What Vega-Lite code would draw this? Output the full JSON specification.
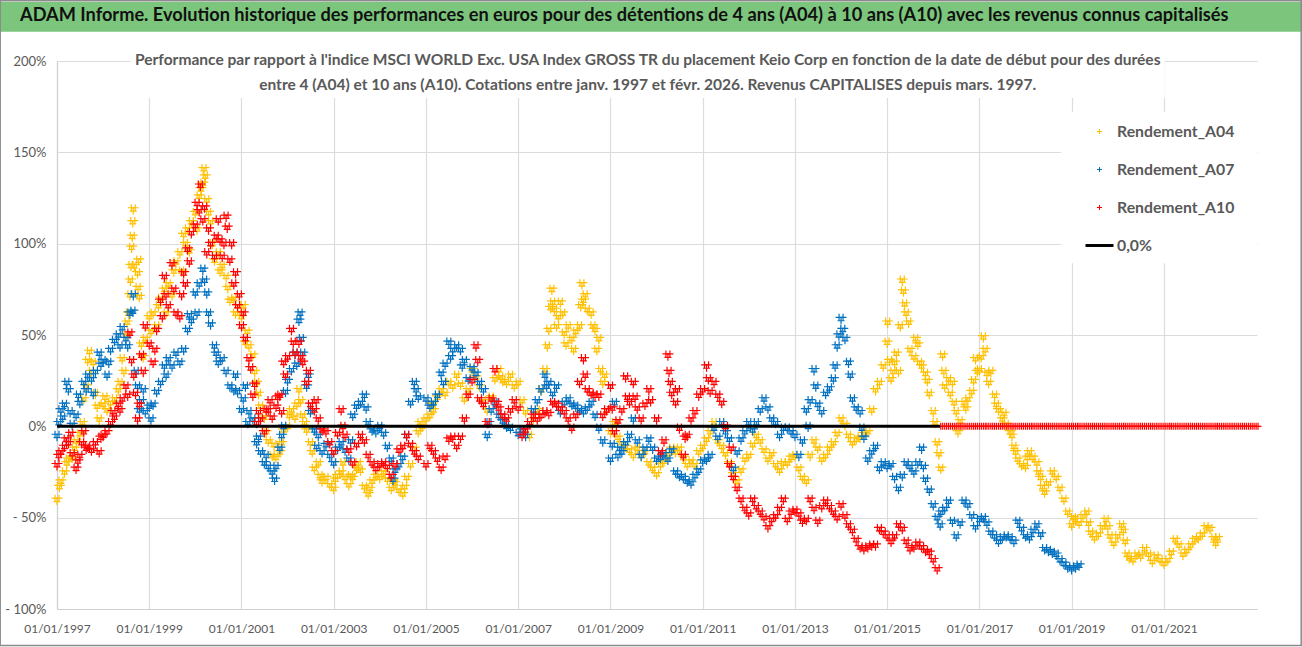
{"$schema":"https://vega.github.io/schema/vega-lite/v6.json","width":1200,"height":548,"autosize":"none","padding":{"left":57,"top":61,"right":45,"bottom":38},"background":"white",
"title":{"text":"ADAM Informe. Evolution historique des performances en euros pour des détentions de 4 ans (A04) à 10 ans (A10) avec les revenus connus capitalisés","anchor":"start","frame":"group","dx":-37,"offset":-25,"font":"Lato","fontSize":18.2,"fontWeight":"bold","color":"#111111"},
"config":{"view":{"stroke":null},"font":"Lato"},
"datasets":{
"a04":[{"d":"1997-01","v":-40},{"d":"1997-01-20","v":-33},{"d":"1997-02","v":-30},{"d":"1997-03","v":-25},{"d":"1997-03-20","v":-20},{"d":"1997-04","v":-18},{"d":"1997-05","v":-17},{"d":"1997-05-20","v":-12},{"d":"1997-06","v":-8},{"d":"1997-07","v":-4},{"d":"1997-07-20","v":2},{"d":"1997-08","v":15},{"d":"1997-08-20","v":22},{"d":"1997-09","v":36},{"d":"1997-09-15","v":41},{"d":"1997-10","v":30},{"d":"1997-10-15","v":35},{"d":"1997-11","v":18},{"d":"1997-11-15","v":11},{"d":"1997-12","v":4},{"d":"1998-01","v":12},{"d":"1998-01-15","v":16},{"d":"1998-02","v":9},{"d":"1998-03","v":13},{"d":"1998-04","v":15},{"d":"1998-05","v":20},{"d":"1998-05-15","v":24},{"d":"1998-06","v":37},{"d":"1998-06-15","v":30},{"d":"1998-07","v":50},{"d":"1998-07-10","v":57},{"d":"1998-07-20","v":62},{"d":"1998-08","v":72},{"d":"1998-08-05","v":80},{"d":"1998-08-10","v":88},{"d":"1998-08-15","v":98},{"d":"1998-08-20","v":104},{"d":"1998-08-24","v":112},{"d":"1998-08-28","v":119},{"d":"1998-09-05","v":88},{"d":"1998-10-01","v":84},{"d":"1998-10-05","v":76},{"d":"1998-10-10","v":91},{"d":"1998-10-15","v":71},{"d":"1998-11","v":45},{"d":"1998-11-15","v":38},{"d":"1998-12","v":48},{"d":"1999-01","v":60},{"d":"1999-01-15","v":52},{"d":"1999-02","v":62},{"d":"1999-03","v":55},{"d":"1999-03-15","v":66},{"d":"1999-04","v":70},{"d":"1999-05","v":75},{"d":"1999-05-15","v":62},{"d":"1999-06","v":78},{"d":"1999-07","v":72},{"d":"1999-07-15","v":85},{"d":"1999-08","v":90},{"d":"1999-09","v":95},{"d":"1999-09-15","v":85},{"d":"1999-10","v":105},{"d":"1999-10-15","v":100},{"d":"1999-11","v":108},{"d":"1999-11-15","v":96},{"d":"1999-12","v":112},{"d":"2000-01","v":117},{"d":"2000-01-15","v":108},{"d":"2000-02","v":126},{"d":"2000-02-15","v":130},{"d":"2000-03","v":133},{"d":"2000-03-10","v":141},{"d":"2000-03-20","v":137},{"d":"2000-04","v":124},{"d":"2000-04-15","v":117},{"d":"2000-05","v":112},{"d":"2000-05-15","v":100},{"d":"2000-06","v":91},{"d":"2000-07","v":95},{"d":"2000-07-15","v":85},{"d":"2000-08","v":88},{"d":"2000-09","v":82},{"d":"2000-09-15","v":76},{"d":"2000-10","v":69},{"d":"2000-11","v":70},{"d":"2000-11-15","v":62},{"d":"2000-12","v":66},{"d":"2001-01","v":60},{"d":"2001-01-15","v":66},{"d":"2001-02","v":46},{"d":"2001-02-15","v":52},{"d":"2001-03","v":44},{"d":"2001-04","v":39},{"d":"2001-04-15","v":30},{"d":"2001-05","v":24},{"d":"2001-05-15","v":18},{"d":"2001-06","v":11},{"d":"2001-07","v":5},{"d":"2001-07-15","v":-3},{"d":"2001-08","v":-8},{"d":"2001-09","v":-16},{"d":"2001-09-15","v":-10},{"d":"2001-10","v":-17},{"d":"2001-11","v":-14},{"d":"2001-11-15","v":-9},{"d":"2001-12","v":-2},{"d":"2002-01","v":0},{"d":"2002-01-15","v":6},{"d":"2002-02","v":9},{"d":"2002-03","v":5},{"d":"2002-03-15","v":12},{"d":"2002-04","v":20},{"d":"2002-04-15","v":14},{"d":"2002-05","v":6},{"d":"2002-05-15","v":2},{"d":"2002-06","v":-2},{"d":"2002-07","v":-9},{"d":"2002-07-15","v":-14},{"d":"2002-08","v":-23},{"d":"2002-09","v":-20},{"d":"2002-09-15","v":-27},{"d":"2002-10","v":-30},{"d":"2002-11","v":-28},{"d":"2002-12","v":-32},{"d":"2003-01","v":-34},{"d":"2003-01-15","v":-29},{"d":"2003-02","v":-27},{"d":"2003-03","v":-25},{"d":"2003-03-15","v":-20},{"d":"2003-04","v":-28},{"d":"2003-05","v":-32},{"d":"2003-05-15","v":-27},{"d":"2003-06","v":-28},{"d":"2003-07","v":-23},{"d":"2003-07-15","v":-20},{"d":"2003-08","v":-24},{"d":"2003-09","v":-33},{"d":"2003-10","v":-37},{"d":"2003-10-15","v":-34},{"d":"2003-11","v":-30},{"d":"2003-12","v":-27},{"d":"2004-01","v":-28},{"d":"2004-02","v":-25},{"d":"2004-03","v":-29},{"d":"2004-04","v":-34},{"d":"2004-04-15","v":-30},{"d":"2004-05","v":-31},{"d":"2004-06","v":-35},{"d":"2004-07","v":-37},{"d":"2004-07-15","v":-33},{"d":"2004-08","v":-28},{"d":"2004-09","v":-21},{"d":"2004-10","v":-12},{"d":"2004-11","v":-3},{"d":"2004-11-15","v":2},{"d":"2004-12","v":0},{"d":"2005-01","v":4},{"d":"2005-02","v":6},{"d":"2005-02-15","v":12},{"d":"2005-03","v":9},{"d":"2005-04","v":16},{"d":"2005-05","v":20},{"d":"2005-06","v":18},{"d":"2005-07","v":24},{"d":"2005-08","v":22},{"d":"2005-09","v":28},{"d":"2005-10","v":23},{"d":"2005-11","v":15},{"d":"2005-12","v":20},{"d":"2006-01","v":31},{"d":"2006-02","v":27},{"d":"2006-03","v":22},{"d":"2006-04","v":14},{"d":"2006-05","v":9},{"d":"2006-06","v":16},{"d":"2006-07","v":26},{"d":"2006-08","v":31},{"d":"2006-08-15","v":27},{"d":"2006-09","v":25},{"d":"2006-10","v":24},{"d":"2006-11","v":28},{"d":"2006-12","v":22},{"d":"2007-01","v":24},{"d":"2007-02","v":14},{"d":"2007-03","v":8},{"d":"2007-04","v":-5},{"d":"2007-05","v":4},{"d":"2007-06","v":9},{"d":"2007-07","v":20},{"d":"2007-08","v":31},{"d":"2007-08-20","v":44},{"d":"2007-09","v":53},{"d":"2007-09-15","v":65},{"d":"2007-09-25","v":75},{"d":"2007-10","v":68},{"d":"2007-10-15","v":64},{"d":"2007-11","v":55},{"d":"2007-11-15","v":60},{"d":"2007-12","v":68},{"d":"2007-12-20","v":62},{"d":"2008-01","v":51},{"d":"2008-01-15","v":45},{"d":"2008-02","v":55},{"d":"2008-03","v":48},{"d":"2008-03-15","v":42},{"d":"2008-04","v":52},{"d":"2008-05","v":55},{"d":"2008-05-10","v":66},{"d":"2008-05-20","v":78},{"d":"2008-06","v":69},{"d":"2008-06-15","v":72},{"d":"2008-07","v":64},{"d":"2008-08","v":62},{"d":"2008-08-15","v":55},{"d":"2008-09","v":53},{"d":"2008-09-15","v":42},{"d":"2008-10","v":48},{"d":"2008-10-15","v":31},{"d":"2008-11","v":24},{"d":"2008-11-15","v":28},{"d":"2008-12","v":9},{"d":"2009-01","v":-3},{"d":"2009-02","v":2},{"d":"2009-03","v":-6},{"d":"2009-04","v":-9},{"d":"2009-05","v":-11},{"d":"2009-06","v":-13},{"d":"2009-07","v":-16},{"d":"2009-08","v":-12},{"d":"2009-09","v":-16},{"d":"2009-10","v":-14},{"d":"2009-11","v":-20},{"d":"2009-12","v":-23},{"d":"2010-01","v":-26},{"d":"2010-02","v":-21},{"d":"2010-03","v":-19},{"d":"2010-04","v":-15},{"d":"2010-05","v":-12},{"d":"2010-06","v":-14},{"d":"2010-07","v":-12},{"d":"2010-08","v":-17},{"d":"2010-09","v":-21},{"d":"2010-10","v":-19},{"d":"2010-11","v":-21},{"d":"2010-12","v":-14},{"d":"2011-01","v":-11},{"d":"2011-02","v":-7},{"d":"2011-03","v":-3},{"d":"2011-04","v":2},{"d":"2011-05","v":-8},{"d":"2011-06","v":-11},{"d":"2011-07","v":-15},{"d":"2011-08","v":-20},{"d":"2011-09","v":-26},{"d":"2011-10","v":-30},{"d":"2011-11","v":-24},{"d":"2011-12","v":-18},{"d":"2012-01","v":-16},{"d":"2012-02","v":-10},{"d":"2012-03","v":-5},{"d":"2012-04","v":-8},{"d":"2012-05","v":-13},{"d":"2012-06","v":-18},{"d":"2012-07","v":-15},{"d":"2012-08","v":-21},{"d":"2012-09","v":-24},{"d":"2012-10","v":-20},{"d":"2012-11","v":-20},{"d":"2012-12","v":-17},{"d":"2013-01","v":-16},{"d":"2013-02","v":-23},{"d":"2013-03","v":-28},{"d":"2013-04","v":-30},{"d":"2013-05","v":-16},{"d":"2013-06","v":-8},{"d":"2013-07","v":-12},{"d":"2013-08","v":-18},{"d":"2013-09","v":-16},{"d":"2013-10","v":-12},{"d":"2013-11","v":-9},{"d":"2013-12","v":-4},{"d":"2014-01","v":4},{"d":"2014-02","v":1},{"d":"2014-03","v":-5},{"d":"2014-04","v":-9},{"d":"2014-05","v":-7},{"d":"2014-06","v":-6},{"d":"2014-07","v":-4},{"d":"2014-08","v":-3},{"d":"2014-09","v":9},{"d":"2014-10","v":20},{"d":"2014-11","v":24},{"d":"2014-12","v":33},{"d":"2015-01","v":46},{"d":"2015-01-05","v":57},{"d":"2015-01-20","v":36},{"d":"2015-02","v":26},{"d":"2015-02-15","v":30},{"d":"2015-03","v":35},{"d":"2015-03-15","v":40},{"d":"2015-04","v":30},{"d":"2015-04-15","v":55},{"d":"2015-05","v":80},{"d":"2015-05-10","v":74},{"d":"2015-05-20","v":67},{"d":"2015-06","v":62},{"d":"2015-06-20","v":57},{"d":"2015-07","v":42},{"d":"2015-08","v":38},{"d":"2015-08-15","v":48},{"d":"2015-09","v":45},{"d":"2015-09-15","v":35},{"d":"2015-10","v":33},{"d":"2015-11","v":29},{"d":"2015-11-15","v":25},{"d":"2015-12","v":18},{"d":"2016-01","v":8},{"d":"2016-01-15","v":2},{"d":"2016-02","v":-9},{"d":"2016-02-15","v":-15},{"d":"2016-03","v":-23},{"d":"2016-03-15","v":39},{"d":"2016-03-25","v":30},{"d":"2016-04","v":22},{"d":"2016-05","v":26},{"d":"2016-05-15","v":18},{"d":"2016-06","v":24},{"d":"2016-06-15","v":13},{"d":"2016-07","v":8},{"d":"2016-07-15","v":-3},{"d":"2016-08","v":3},{"d":"2016-09","v":13},{"d":"2016-09-15","v":10},{"d":"2016-10","v":15},{"d":"2016-11","v":19},{"d":"2016-11-15","v":25},{"d":"2016-12","v":37},{"d":"2016-12-15","v":30},{"d":"2017-01","v":31},{"d":"2017-01-15","v":38},{"d":"2017-02","v":49},{"d":"2017-02-15","v":42},{"d":"2017-03","v":29},{"d":"2017-03-15","v":24},{"d":"2017-04","v":30},{"d":"2017-05","v":17},{"d":"2017-05-15","v":12},{"d":"2017-06","v":9},{"d":"2017-07","v":4},{"d":"2017-07-15","v":7},{"d":"2017-08","v":1},{"d":"2017-09","v":-3},{"d":"2017-09-15","v":-5},{"d":"2017-10","v":-11},{"d":"2017-10-15","v":-14},{"d":"2017-11","v":-18},{"d":"2017-12","v":-21},{"d":"2018-01","v":-22},{"d":"2018-01-15","v":-17},{"d":"2018-02","v":-14},{"d":"2018-03","v":-17},{"d":"2018-04","v":-20},{"d":"2018-04-15","v":-25},{"d":"2018-05","v":-28},{"d":"2018-05-15","v":-33},{"d":"2018-06","v":-36},{"d":"2018-07","v":-31},{"d":"2018-08","v":-25},{"d":"2018-09","v":-28},{"d":"2018-10","v":-34},{"d":"2018-11","v":-40},{"d":"2018-12","v":-47},{"d":"2019-01","v":-54},{"d":"2019-01-15","v":-50},{"d":"2019-02","v":-51},{"d":"2019-03","v":-53},{"d":"2019-04","v":-49},{"d":"2019-05","v":-47},{"d":"2019-05-15","v":-53},{"d":"2019-06","v":-58},{"d":"2019-07","v":-61},{"d":"2019-08","v":-59},{"d":"2019-09","v":-55},{"d":"2019-10","v":-51},{"d":"2019-10-15","v":-55},{"d":"2019-11","v":-60},{"d":"2019-12","v":-64},{"d":"2020-01","v":-60},{"d":"2020-02","v":-54},{"d":"2020-02-15","v":-57},{"d":"2020-03","v":-63},{"d":"2020-03-15","v":-70},{"d":"2020-04","v":-72},{"d":"2020-05","v":-73},{"d":"2020-06","v":-70},{"d":"2020-07","v":-71},{"d":"2020-08","v":-67},{"d":"2020-09","v":-70},{"d":"2020-10","v":-74},{"d":"2020-11","v":-71},{"d":"2020-12","v":-73},{"d":"2021-01","v":-75},{"d":"2021-02","v":-73},{"d":"2021-03","v":-69},{"d":"2021-04","v":-62},{"d":"2021-05","v":-65},{"d":"2021-06","v":-70},{"d":"2021-07","v":-68},{"d":"2021-08","v":-65},{"d":"2021-09","v":-62},{"d":"2021-10","v":-61},{"d":"2021-11","v":-59},{"d":"2021-12","v":-55},{"d":"2022-01","v":-56},{"d":"2022-02","v":-61},{"d":"2022-02-15","v":-64},{"d":"2022-03","v":-61}],
"a07":[{"d":"1997-01","v":-5},{"d":"1997-01-15","v":2},{"d":"1997-02","v":9},{"d":"1997-02-15","v":5},{"d":"1997-03","v":12},{"d":"1997-03-20","v":24},{"d":"1997-04","v":20},{"d":"1997-04-15","v":8},{"d":"1997-05","v":1},{"d":"1997-06","v":6},{"d":"1997-06-20","v":17},{"d":"1997-07","v":13},{"d":"1997-08","v":24},{"d":"1997-08-20","v":20},{"d":"1997-09","v":28},{"d":"1997-10","v":26},{"d":"1997-10-15","v":18},{"d":"1997-11","v":30},{"d":"1997-12","v":40},{"d":"1997-12-15","v":34},{"d":"1998-01","v":36},{"d":"1998-02","v":28},{"d":"1998-02-15","v":35},{"d":"1998-03","v":42},{"d":"1998-04","v":47},{"d":"1998-05","v":50},{"d":"1998-05-15","v":44},{"d":"1998-06","v":54},{"d":"1998-07","v":48},{"d":"1998-07-15","v":44},{"d":"1998-08","v":62},{"d":"1998-08-25","v":63},{"d":"1998-08-28","v":72},{"d":"1998-09-20","v":30},{"d":"1998-10","v":22},{"d":"1998-10-15","v":9},{"d":"1998-11","v":14},{"d":"1998-11-15","v":20},{"d":"1998-12","v":8},{"d":"1999-01","v":11},{"d":"1999-01-15","v":4},{"d":"1999-02","v":12},{"d":"1999-03","v":19},{"d":"1999-04","v":24},{"d":"1999-05","v":33},{"d":"1999-05-15","v":28},{"d":"1999-06","v":37},{"d":"1999-07","v":33},{"d":"1999-08","v":40},{"d":"1999-09","v":35},{"d":"1999-10","v":42},{"d":"1999-11","v":53},{"d":"1999-11-15","v":61},{"d":"1999-12","v":58},{"d":"2000-01","v":73},{"d":"2000-01-15","v":62},{"d":"2000-02","v":78},{"d":"2000-03","v":86},{"d":"2000-03-15","v":80},{"d":"2000-04","v":73},{"d":"2000-04-15","v":62},{"d":"2000-05","v":56},{"d":"2000-06","v":44},{"d":"2000-06-15","v":40},{"d":"2000-07","v":35},{"d":"2000-08","v":37},{"d":"2000-09","v":30},{"d":"2000-10","v":22},{"d":"2000-11","v":20},{"d":"2000-11-15","v":28},{"d":"2000-12","v":19},{"d":"2001-01","v":9},{"d":"2001-01-15","v":15},{"d":"2001-02","v":22},{"d":"2001-02-20","v":2},{"d":"2001-03","v":8},{"d":"2001-04","v":4},{"d":"2001-05","v":-9},{"d":"2001-05-15","v":-6},{"d":"2001-06","v":-14},{"d":"2001-07","v":-20},{"d":"2001-07-15","v":-16},{"d":"2001-08","v":-22},{"d":"2001-09","v":-25},{"d":"2001-09-20","v":-29},{"d":"2001-10","v":-22},{"d":"2001-11","v":-12},{"d":"2001-11-15","v":-5},{"d":"2001-12","v":0},{"d":"2001-12-15","v":19},{"d":"2002-01","v":25},{"d":"2002-02","v":31},{"d":"2002-03","v":40},{"d":"2002-03-15","v":34},{"d":"2002-04","v":58},{"d":"2002-04-10","v":62},{"d":"2002-04-20","v":48},{"d":"2002-05","v":40},{"d":"2002-06","v":22},{"d":"2002-06-15","v":28},{"d":"2002-07","v":8},{"d":"2002-08","v":-2},{"d":"2002-08-20","v":-11},{"d":"2002-09","v":-5},{"d":"2002-10","v":-14},{"d":"2002-11","v":-10},{"d":"2002-12","v":-16},{"d":"2003-01","v":-20},{"d":"2003-02","v":-12},{"d":"2003-03","v":-9},{"d":"2003-04","v":-13},{"d":"2003-05","v":-18},{"d":"2003-05-15","v":-8},{"d":"2003-06","v":6},{"d":"2003-07","v":11},{"d":"2003-08","v":13},{"d":"2003-09","v":17},{"d":"2003-09-15","v":10},{"d":"2003-10","v":2},{"d":"2003-11","v":-2},{"d":"2003-12","v":-3},{"d":"2004-01","v":0},{"d":"2004-02","v":-4},{"d":"2004-03","v":-11},{"d":"2004-04","v":-18},{"d":"2004-04-15","v":-29},{"d":"2004-05","v":-24},{"d":"2004-06","v":-21},{"d":"2004-07","v":-17},{"d":"2004-08","v":-5},{"d":"2004-09","v":13},{"d":"2004-10","v":24},{"d":"2004-10-15","v":20},{"d":"2004-11","v":16},{"d":"2005-01","v":15},{"d":"2005-02","v":11},{"d":"2005-03","v":13},{"d":"2005-04","v":17},{"d":"2005-05","v":29},{"d":"2005-05-20","v":24},{"d":"2005-06","v":34},{"d":"2005-07","v":46},{"d":"2005-07-15","v":38},{"d":"2005-08","v":42},{"d":"2005-09","v":44},{"d":"2005-10","v":42},{"d":"2005-10-15","v":33},{"d":"2005-11","v":36},{"d":"2005-12","v":26},{"d":"2006-01","v":32},{"d":"2006-02","v":29},{"d":"2006-03","v":24},{"d":"2006-04","v":20},{"d":"2006-05","v":-5},{"d":"2006-05-15","v":2},{"d":"2006-06","v":9},{"d":"2006-07","v":13},{"d":"2006-08","v":6},{"d":"2006-09","v":3},{"d":"2006-10","v":0},{"d":"2006-11","v":-1},{"d":"2007-01","v":-4},{"d":"2007-02","v":-2},{"d":"2007-03","v":-5},{"d":"2007-04","v":2},{"d":"2007-05","v":9},{"d":"2007-06","v":14},{"d":"2007-07","v":20},{"d":"2007-08","v":28},{"d":"2007-08-15","v":22},{"d":"2007-09","v":24},{"d":"2007-10","v":18},{"d":"2007-11","v":22},{"d":"2007-12","v":8},{"d":"2008-01","v":13},{"d":"2008-02","v":15},{"d":"2008-03","v":12},{"d":"2008-04","v":11},{"d":"2008-05","v":9},{"d":"2008-06","v":8},{"d":"2008-07","v":10},{"d":"2008-08","v":13},{"d":"2008-09","v":6},{"d":"2008-10","v":-1},{"d":"2008-11","v":-8},{"d":"2009-01","v":-18},{"d":"2009-01-15","v":-10},{"d":"2009-02","v":13},{"d":"2009-03","v":-16},{"d":"2009-03-15","v":-12},{"d":"2009-04","v":-14},{"d":"2009-05","v":-9},{"d":"2009-06","v":-5},{"d":"2009-07","v":4},{"d":"2009-08","v":-8},{"d":"2009-09","v":-16},{"d":"2009-10","v":-12},{"d":"2009-11","v":-7},{"d":"2009-12","v":-12},{"d":"2010-01","v":-18},{"d":"2010-02","v":-17},{"d":"2010-03","v":-15},{"d":"2010-04","v":-18},{"d":"2010-05","v":-13},{"d":"2010-06","v":-25},{"d":"2010-07","v":-27},{"d":"2010-08","v":-28},{"d":"2010-09","v":-30},{"d":"2010-10","v":-31},{"d":"2010-11","v":-27},{"d":"2010-12","v":-24},{"d":"2011-01","v":-19},{"d":"2011-02","v":-18},{"d":"2011-03","v":-16},{"d":"2011-04","v":-1},{"d":"2011-05","v":-6},{"d":"2011-06","v":2},{"d":"2011-07","v":-3},{"d":"2011-08","v":-7},{"d":"2011-09","v":-23},{"d":"2011-10","v":-14},{"d":"2011-11","v":-7},{"d":"2011-12","v":-3},{"d":"2012-01","v":2},{"d":"2012-02","v":-2},{"d":"2012-03","v":2},{"d":"2012-04","v":9},{"d":"2012-05","v":15},{"d":"2012-06","v":10},{"d":"2012-07","v":4},{"d":"2012-08","v":2},{"d":"2012-09","v":-5},{"d":"2012-10","v":-1},{"d":"2012-11","v":-1},{"d":"2012-12","v":-3},{"d":"2013-01","v":-5},{"d":"2013-02","v":-16},{"d":"2013-03","v":-8},{"d":"2013-04","v":9},{"d":"2013-04-15","v":0},{"d":"2013-05","v":14},{"d":"2013-06","v":31},{"d":"2013-06-15","v":22},{"d":"2013-07","v":12},{"d":"2013-08","v":8},{"d":"2013-09","v":18},{"d":"2013-10","v":21},{"d":"2013-11","v":26},{"d":"2013-11-15","v":33},{"d":"2013-12","v":44},{"d":"2013-12-15","v":50},{"d":"2014-01","v":59},{"d":"2014-01-15","v":53},{"d":"2014-02","v":48},{"d":"2014-03","v":35},{"d":"2014-03-15","v":28},{"d":"2014-04","v":15},{"d":"2014-05","v":10},{"d":"2014-06","v":8},{"d":"2014-06-15","v":-1},{"d":"2014-07","v":-6},{"d":"2014-08","v":-18},{"d":"2014-09","v":-14},{"d":"2014-10","v":-11},{"d":"2014-11","v":-23},{"d":"2014-12","v":-20},{"d":"2015-01","v":-22},{"d":"2015-02","v":-21},{"d":"2015-03","v":-28},{"d":"2015-04","v":-34},{"d":"2015-05","v":-27},{"d":"2015-06","v":-20},{"d":"2015-07","v":-22},{"d":"2015-08","v":-25},{"d":"2015-09","v":-20},{"d":"2015-10","v":-12},{"d":"2015-10-15","v":-22},{"d":"2015-11","v":-29},{"d":"2015-12","v":-35},{"d":"2016-01","v":-43},{"d":"2016-02","v":-50},{"d":"2016-02-25","v":-54},{"d":"2016-03","v":-47},{"d":"2016-04","v":-45},{"d":"2016-05","v":-41},{"d":"2016-06","v":-52},{"d":"2016-07","v":-60},{"d":"2016-08","v":-53},{"d":"2016-09","v":-41},{"d":"2016-10","v":-43},{"d":"2016-11","v":-49},{"d":"2016-12","v":-55},{"d":"2017-01","v":-51},{"d":"2017-02","v":-50},{"d":"2017-03","v":-53},{"d":"2017-04","v":-58},{"d":"2017-05","v":-60},{"d":"2017-06","v":-63},{"d":"2017-07","v":-61},{"d":"2017-08","v":-60},{"d":"2017-09","v":-61},{"d":"2017-10","v":-63},{"d":"2017-11","v":-52},{"d":"2017-12","v":-56},{"d":"2018-01","v":-60},{"d":"2018-02","v":-61},{"d":"2018-03","v":-57},{"d":"2018-04","v":-54},{"d":"2018-05","v":-59},{"d":"2018-06","v":-67},{"d":"2018-07","v":-68},{"d":"2018-08","v":-69},{"d":"2018-09","v":-70},{"d":"2018-10","v":-73},{"d":"2018-11","v":-75},{"d":"2018-12","v":-77},{"d":"2019-01","v":-78},{"d":"2019-02","v":-77},{"d":"2019-03","v":-76}],
"a10":[{"d":"1997-01","v":-21},{"d":"1997-01-15","v":-16},{"d":"1997-02","v":-14},{"d":"1997-03","v":-11},{"d":"1997-03-15","v":-7},{"d":"1997-04","v":-9},{"d":"1997-04-20","v":-4},{"d":"1997-05","v":-15},{"d":"1997-06","v":-23},{"d":"1997-06-15","v":-19},{"d":"1997-07","v":-16},{"d":"1997-07-15","v":-9},{"d":"1997-08","v":-3},{"d":"1997-08-20","v":-12},{"d":"1997-09","v":-11},{"d":"1997-10","v":-13},{"d":"1997-11","v":-9},{"d":"1997-12","v":-14},{"d":"1997-12-15","v":-6},{"d":"1998-01","v":-5},{"d":"1998-02","v":-3},{"d":"1998-03","v":2},{"d":"1998-03-20","v":8},{"d":"1998-04","v":5},{"d":"1998-05","v":12},{"d":"1998-05-15","v":9},{"d":"1998-06","v":15},{"d":"1998-07","v":22},{"d":"1998-07-15","v":17},{"d":"1998-08","v":51},{"d":"1998-08-15","v":36},{"d":"1998-09","v":28},{"d":"1998-09-15","v":18},{"d":"1998-10","v":4},{"d":"1998-10-15","v":12},{"d":"1998-11","v":39},{"d":"1998-11-15","v":30},{"d":"1998-12","v":55},{"d":"1999-01","v":45},{"d":"1999-02","v":35},{"d":"1999-02-15","v":42},{"d":"1999-03","v":53},{"d":"1999-04","v":69},{"d":"1999-04-15","v":60},{"d":"1999-05","v":82},{"d":"1999-05-15","v":72},{"d":"1999-06","v":66},{"d":"1999-07","v":89},{"d":"1999-07-15","v":75},{"d":"1999-08","v":62},{"d":"1999-09","v":60},{"d":"1999-09-15","v":72},{"d":"1999-10","v":84},{"d":"1999-10-15","v":78},{"d":"1999-11","v":97},{"d":"1999-11-15","v":90},{"d":"1999-12","v":106},{"d":"2000-01","v":110},{"d":"2000-01-15","v":122},{"d":"2000-02","v":118},{"d":"2000-02-10","v":132},{"d":"2000-03","v":113},{"d":"2000-03-15","v":120},{"d":"2000-04","v":95},{"d":"2000-04-15","v":108},{"d":"2000-05","v":100},{"d":"2000-06","v":93},{"d":"2000-06-15","v":104},{"d":"2000-07","v":113},{"d":"2000-07-15","v":102},{"d":"2000-08","v":93},{"d":"2000-08-15","v":100},{"d":"2000-09","v":115},{"d":"2000-09-10","v":109},{"d":"2000-10","v":91},{"d":"2000-10-15","v":100},{"d":"2000-11","v":78},{"d":"2000-11-15","v":84},{"d":"2000-12","v":66},{"d":"2000-12-15","v":72},{"d":"2001-01","v":55},{"d":"2001-01-15","v":62},{"d":"2001-02","v":48},{"d":"2001-03","v":37},{"d":"2001-03-15","v":32},{"d":"2001-04","v":17},{"d":"2001-04-15","v":23},{"d":"2001-05","v":2},{"d":"2001-05-15","v":8},{"d":"2001-06","v":4},{"d":"2001-07","v":-3},{"d":"2001-07-15","v":9},{"d":"2001-08","v":9},{"d":"2001-08-15","v":14},{"d":"2001-09","v":5},{"d":"2001-10","v":11},{"d":"2001-10-15","v":16},{"d":"2001-11","v":17},{"d":"2001-11-15","v":8},{"d":"2001-12","v":35},{"d":"2001-12-15","v":28},{"d":"2002-01","v":38},{"d":"2002-02","v":53},{"d":"2002-02-15","v":46},{"d":"2002-03","v":40},{"d":"2002-04","v":46},{"d":"2002-04-15","v":38},{"d":"2002-05","v":35},{"d":"2002-06","v":24},{"d":"2002-06-15","v":30},{"d":"2002-07","v":12},{"d":"2002-08","v":9},{"d":"2002-08-15","v":14},{"d":"2002-09","v":4},{"d":"2002-10","v":-2},{"d":"2002-11","v":-3},{"d":"2002-12","v":-9},{"d":"2003-01","v":-14},{"d":"2003-02","v":-4},{"d":"2003-03","v":9},{"d":"2003-03-15","v":0},{"d":"2003-04","v":-5},{"d":"2003-05","v":-13},{"d":"2003-06","v":-20},{"d":"2003-07","v":-10},{"d":"2003-08","v":-5},{"d":"2003-09","v":-8},{"d":"2003-10","v":-16},{"d":"2003-11","v":-20},{"d":"2003-12","v":-23},{"d":"2004-01","v":-21},{"d":"2004-02","v":-20},{"d":"2004-03","v":-22},{"d":"2004-04","v":-27},{"d":"2004-05","v":-21},{"d":"2004-06","v":-13},{"d":"2004-07","v":-11},{"d":"2004-08","v":-5},{"d":"2004-09","v":-10},{"d":"2004-10","v":-14},{"d":"2004-11","v":-17},{"d":"2005-01","v":-21},{"d":"2005-02","v":-11},{"d":"2005-03","v":-14},{"d":"2005-04","v":-18},{"d":"2005-05","v":-23},{"d":"2005-06","v":-17},{"d":"2005-07","v":-7},{"d":"2005-08","v":-6},{"d":"2005-09","v":-11},{"d":"2005-10","v":-6},{"d":"2005-11","v":4},{"d":"2005-12","v":17},{"d":"2006-01","v":25},{"d":"2006-02","v":44},{"d":"2006-02-15","v":36},{"d":"2006-03","v":15},{"d":"2006-04","v":12},{"d":"2006-05","v":2},{"d":"2006-06","v":15},{"d":"2006-07","v":31},{"d":"2006-07-15","v":13},{"d":"2006-08","v":10},{"d":"2006-09","v":6},{"d":"2006-10","v":4},{"d":"2006-11","v":9},{"d":"2006-12","v":14},{"d":"2007-01","v":10},{"d":"2007-02","v":-5},{"d":"2007-03","v":-2},{"d":"2007-04","v":2},{"d":"2007-05","v":6},{"d":"2007-06","v":4},{"d":"2007-07","v":6},{"d":"2007-08","v":8},{"d":"2007-09","v":7},{"d":"2007-10","v":13},{"d":"2007-11","v":12},{"d":"2007-12","v":10},{"d":"2008-01","v":8},{"d":"2008-02","v":4},{"d":"2008-03","v":-1},{"d":"2008-04","v":6},{"d":"2008-05","v":24},{"d":"2008-06","v":37},{"d":"2008-06-15","v":28},{"d":"2008-07","v":20},{"d":"2008-08","v":18},{"d":"2008-09","v":17},{"d":"2008-10","v":17},{"d":"2008-11","v":6},{"d":"2008-12","v":9},{"d":"2009-01","v":22},{"d":"2009-01-15","v":10},{"d":"2009-02","v":-3},{"d":"2009-03","v":3},{"d":"2009-04","v":9},{"d":"2009-05","v":27},{"d":"2009-05-15","v":16},{"d":"2009-06","v":13},{"d":"2009-07","v":24},{"d":"2009-07-15","v":16},{"d":"2009-08","v":10},{"d":"2009-09","v":4},{"d":"2009-10","v":12},{"d":"2009-11","v":20},{"d":"2009-11-15","v":14},{"d":"2010-01","v":4},{"d":"2010-02","v":-14},{"d":"2010-03","v":-8},{"d":"2010-04","v":39},{"d":"2010-04-10","v":30},{"d":"2010-04-20","v":24},{"d":"2010-05","v":18},{"d":"2010-06","v":13},{"d":"2010-06-15","v":20},{"d":"2010-07","v":-1},{"d":"2010-08","v":-16},{"d":"2010-08-15","v":-6},{"d":"2010-09","v":-5},{"d":"2010-10","v":4},{"d":"2010-11","v":8},{"d":"2010-12","v":17},{"d":"2011-01","v":20},{"d":"2011-02","v":33},{"d":"2011-02-15","v":26},{"d":"2011-03","v":19},{"d":"2011-04","v":24},{"d":"2011-05","v":17},{"d":"2011-06","v":13},{"d":"2011-07","v":0},{"d":"2011-08","v":-21},{"d":"2011-08-15","v":-12},{"d":"2011-09","v":-28},{"d":"2011-10","v":-34},{"d":"2011-11","v":-40},{"d":"2011-12","v":-45},{"d":"2012-01","v":-48},{"d":"2012-02","v":-40},{"d":"2012-03","v":-44},{"d":"2012-04","v":-47},{"d":"2012-05","v":-50},{"d":"2012-06","v":-55},{"d":"2012-07","v":-51},{"d":"2012-08","v":-49},{"d":"2012-09","v":-45},{"d":"2012-10","v":-40},{"d":"2012-11","v":-51},{"d":"2012-12","v":-47},{"d":"2013-01","v":-46},{"d":"2013-02","v":-48},{"d":"2013-03","v":-52},{"d":"2013-04","v":-51},{"d":"2013-05","v":-40},{"d":"2013-06","v":-45},{"d":"2013-07","v":-52},{"d":"2013-08","v":-44},{"d":"2013-09","v":-41},{"d":"2013-10","v":-44},{"d":"2013-11","v":-47},{"d":"2013-12","v":-50},{"d":"2014-01","v":-43},{"d":"2014-02","v":-49},{"d":"2014-03","v":-54},{"d":"2014-04","v":-57},{"d":"2014-05","v":-62},{"d":"2014-06","v":-66},{"d":"2014-07","v":-67},{"d":"2014-08","v":-66},{"d":"2014-09","v":-65},{"d":"2014-10","v":-65},{"d":"2014-11","v":-56},{"d":"2014-12","v":-58},{"d":"2015-01","v":-60},{"d":"2015-02","v":-63},{"d":"2015-03","v":-60},{"d":"2015-04","v":-54},{"d":"2015-05","v":-56},{"d":"2015-06","v":-63},{"d":"2015-07","v":-67},{"d":"2015-08","v":-66},{"d":"2015-09","v":-64},{"d":"2015-10","v":-66},{"d":"2015-11","v":-68},{"d":"2015-12","v":-69},{"d":"2016-01","v":-73},{"d":"2016-02","v":-78}],
"a10z":[{"d":"2016-03","v":0},{"d":"2016-04","v":0},{"d":"2016-05","v":0},{"d":"2016-06","v":0},{"d":"2016-07","v":0},{"d":"2016-08","v":0},{"d":"2016-09","v":0},{"d":"2016-10","v":0},{"d":"2016-11","v":0},{"d":"2016-12","v":0},{"d":"2017-01","v":0},{"d":"2017-02","v":0},{"d":"2017-03","v":0},{"d":"2017-04","v":0},{"d":"2017-05","v":0},{"d":"2017-06","v":0},{"d":"2017-07","v":0},{"d":"2017-08","v":0},{"d":"2017-09","v":0},{"d":"2017-10","v":0},{"d":"2017-11","v":0},{"d":"2017-12","v":0},{"d":"2018-01","v":0},{"d":"2018-02","v":0},{"d":"2018-03","v":0},{"d":"2018-04","v":0},{"d":"2018-05","v":0},{"d":"2018-06","v":0},{"d":"2018-07","v":0},{"d":"2018-08","v":0},{"d":"2018-09","v":0},{"d":"2018-10","v":0},{"d":"2018-11","v":0},{"d":"2018-12","v":0},{"d":"2019-01","v":0},{"d":"2019-02","v":0},{"d":"2019-03","v":0},{"d":"2019-04","v":0},{"d":"2019-05","v":0},{"d":"2019-06","v":0},{"d":"2019-07","v":0},{"d":"2019-08","v":0},{"d":"2019-09","v":0},{"d":"2019-10","v":0},{"d":"2019-11","v":0},{"d":"2019-12","v":0},{"d":"2020-01","v":0},{"d":"2020-02","v":0},{"d":"2020-03","v":0},{"d":"2020-04","v":0},{"d":"2020-05","v":0},{"d":"2020-06","v":0},{"d":"2020-07","v":0},{"d":"2020-08","v":0},{"d":"2020-09","v":0},{"d":"2020-10","v":0},{"d":"2020-11","v":0},{"d":"2020-12","v":0},{"d":"2021-01","v":0},{"d":"2021-02","v":0},{"d":"2021-03","v":0},{"d":"2021-04","v":0},{"d":"2021-05","v":0},{"d":"2021-06","v":0},{"d":"2021-07","v":0},{"d":"2021-08","v":0},{"d":"2021-09","v":0},{"d":"2021-10","v":0},{"d":"2021-11","v":0},{"d":"2021-12","v":0},{"d":"2022-01","v":0},{"d":"2022-02","v":0},{"d":"2022-03","v":0},{"d":"2022-04","v":0},{"d":"2022-05","v":0},{"d":"2022-06","v":0},{"d":"2022-07","v":0},{"d":"2022-08","v":0},{"d":"2022-09","v":0},{"d":"2022-10","v":0},{"d":"2022-11","v":0},{"d":"2022-12","v":0},{"d":"2023-01","v":0}],
"zero":[{"d":"1997-01-01","v":0},{"d":"2016-02-25","v":0}],
"blank":[{"n":1}]},
"layer":[
{"data":{"name":"blank"},"mark":{"type":"rect","fill":"white","stroke":null},"encoding":{"x":{"datum":{"year":1998,"month":8,"date":7,"utc":true},"type":"temporal"},"x2":{"datum":{"year":2021,"month":1,"date":8,"utc":true}},"y":{"datum":203.3,"type":"quantitative"},"y2":{"datum":179.7}}},
{"data":{"name":"blank"},"mark":{"type":"rect","fill":"white","stroke":null},"encoding":{"x":{"datum":{"year":2018,"month":10,"date":8,"utc":true},"type":"temporal"},"x2":{"datum":{"year":2023,"month":1,"date":8,"utc":true}},"y":{"datum":172,"type":"quantitative"},"y2":{"datum":89.3}}},
{"data":{"name":"blank"},"mark":{"type":"rect","fill":"#7CC57D","stroke":null},"encoding":{"x":{"datum":{"year":1995,"month":10,"date":7,"utc":true},"type":"temporal"},"x2":{"datum":{"year":2023,"month":12,"date":29,"utc":true}},"y":{"datum":232.3,"type":"quantitative"},"y2":{"datum":216}}},
{"data":{"name":"blank"},"mark":{"type":"rect","fill":null,"stroke":"#8a8a8a","strokeWidth":1.5},"encoding":{"x":{"datum":{"year":1995,"month":10,"date":9,"utc":true},"type":"temporal"},"x2":{"datum":{"year":2023,"month":12,"date":24,"utc":true}},"y":{"datum":233,"type":"quantitative"},"y2":{"datum":-120}}},
{"data":{"name":"blank"},"mark":{"type":"text","text":"Performance par rapport à l'indice MSCI WORLD Exc. USA Index GROSS TR  du placement Keio Corp en fonction de la date de début pour des durées","font":"Lato","fontWeight":"bold","fontSize":15.55,"fill":"#595959","align":"center","baseline":"middle"},"encoding":{"x":{"datum":{"year":2009,"month":10,"date":23,"utc":true},"type":"temporal"},"y":{"datum":200.5,"type":"quantitative"}}},
{"data":{"name":"blank"},"mark":{"type":"text","text":"entre 4 (A04) et 10 ans (A10). Cotations entre janv. 1997 et févr. 2026. Revenus CAPITALISES depuis mars. 1997.","font":"Lato","fontWeight":"bold","fontSize":15.55,"fill":"#595959","align":"center","baseline":"middle"},"encoding":{"x":{"datum":{"year":2009,"month":10,"date":23,"utc":true},"type":"temporal"},"y":{"datum":186.9,"type":"quantitative"}}},
{"data":{"name":"a04"},"mark":{"type":"point","filled":false,"strokeWidth":1.2,"opacity":1,"size":1500,"yOffset":2.2},"encoding":{
"x":{"field":"d","type":"temporal","title":null,"scale":{"type":"utc","domain":["1997-01-01","2023-01-08"]},"axis":{"values":["1997-01-01","1999-01-01","2001-01-01","2003-01-01","2005-01-01","2007-01-01","2009-01-01","2011-01-01","2013-01-01","2015-01-01","2017-01-01","2019-01-01","2021-01-01"],"format":"%d/%m/%Y","grid":true,"gridColor":"#dcdcdc","gridWidth":1.2,"domainColor":"#d0d0d0","domainWidth":1.2,"ticks":false,"labelColor":"#595959","labelFont":"Lato","labelFontSize":12,"labelPadding":14,"labelAngle":0,"labelOverlap":false,"labelFlush":false}},
"y":{"field":"v","type":"quantitative","title":null,"scale":{"domain":[-100,200],"nice":false,"zero":false},"axis":{"values":[-100,-50,0,50,100,150,200],"grid":true,"gridColor":"#dcdcdc","gridWidth":1.2,"domainColor":"#d0d0d0","domainWidth":1.2,"ticks":false,"labelColor":"#595959","labelFont":"Lato","labelFontSize":13,"labelPadding":11,"labelFlush":false,"labelExpr":"datum.value<0?'- '+abs(datum.value)+'%':datum.value+'%'"}},
"color":{"datum":"Rendement_A04","scale":{"domain":["Rendement_A04","Rendement_A07","Rendement_A10","0,0%"],"range":["#FFC000","#0070C0","#FF0000","#000000"]},"legend":{"title":null,"orient":"none","legendX":1028,"legendY":56,"padding":0,"rowPadding":15,"symbolSize":784,"symbolStrokeWidth":1,"symbolFillColor":"transparent","labelFont":"Lato","labelFontWeight":"bold","labelFontSize":15.8,"labelColor":"#595959","labelOffset":3,"labelLimit":200,"encode":{"symbols":{"update":{"stroke":{"scale":"color","field":"value"}}}}}},"shape":{"datum":"Rendement_A04","scale":{"domain":["Rendement_A04","Rendement_A07","Rendement_A10","0,0%"],"range":["M-0.18,0H0.18M0,-0.18V0.18","M-0.18,0H0.18M0,-0.18V0.18","M-0.18,0H0.18M0,-0.18V0.18","M-1,-0.07H1M-1,0H1M-1,0.07H1"]},"legend":{"title":null,"orient":"none","legendX":1028,"legendY":56,"padding":0,"rowPadding":15,"symbolSize":784,"symbolStrokeWidth":1,"symbolFillColor":"transparent","labelFont":"Lato","labelFontWeight":"bold","labelFontSize":15.8,"labelColor":"#595959","labelOffset":3,"labelLimit":200,"encode":{"symbols":{"update":{"stroke":{"scale":"color","field":"value"}}}}}}}},
{"data":{"name":"a04"},"mark":{"type":"point","filled":false,"strokeWidth":1.2,"opacity":1,"size":1500,"xOffset":2,"yOffset":-1.2},"encoding":{"x":{"field":"d","type":"temporal"},"y":{"field":"v","type":"quantitative"},"color":{"datum":"Rendement_A04","legend":null},"shape":{"datum":"Rendement_A04","legend":null}}},
{"data":{"name":"a04"},"mark":{"type":"point","filled":false,"strokeWidth":1.2,"opacity":1,"size":1500,"xOffset":-2,"yOffset":-1.2},"encoding":{"x":{"field":"d","type":"temporal"},"y":{"field":"v","type":"quantitative"},"color":{"datum":"Rendement_A04","legend":null},"shape":{"datum":"Rendement_A04","legend":null}}},
{"data":{"name":"a07"},"mark":{"type":"point","filled":false,"strokeWidth":1.2,"opacity":1,"size":1500,"yOffset":2.2},"encoding":{"x":{"field":"d","type":"temporal"},"y":{"field":"v","type":"quantitative"},"color":{"datum":"Rendement_A07","legend":null},"shape":{"datum":"Rendement_A07","legend":null}}},
{"data":{"name":"a07"},"mark":{"type":"point","filled":false,"strokeWidth":1.2,"opacity":1,"size":1500,"xOffset":2,"yOffset":-1.2},"encoding":{"x":{"field":"d","type":"temporal"},"y":{"field":"v","type":"quantitative"},"color":{"datum":"Rendement_A07","legend":null},"shape":{"datum":"Rendement_A07","legend":null}}},
{"data":{"name":"a07"},"mark":{"type":"point","filled":false,"strokeWidth":1.2,"opacity":1,"size":1500,"xOffset":-2,"yOffset":-1.2},"encoding":{"x":{"field":"d","type":"temporal"},"y":{"field":"v","type":"quantitative"},"color":{"datum":"Rendement_A07","legend":null},"shape":{"datum":"Rendement_A07","legend":null}}},
{"data":{"name":"a10"},"mark":{"type":"point","filled":false,"strokeWidth":1.2,"opacity":1,"size":1500,"yOffset":2.2},"encoding":{"x":{"field":"d","type":"temporal"},"y":{"field":"v","type":"quantitative"},"color":{"datum":"Rendement_A10","legend":null},"shape":{"datum":"Rendement_A10","legend":null}}},
{"data":{"name":"a10"},"mark":{"type":"point","filled":false,"strokeWidth":1.2,"opacity":1,"size":1500,"xOffset":2,"yOffset":-1.2},"encoding":{"x":{"field":"d","type":"temporal"},"y":{"field":"v","type":"quantitative"},"color":{"datum":"Rendement_A10","legend":null},"shape":{"datum":"Rendement_A10","legend":null}}},
{"data":{"name":"a10"},"mark":{"type":"point","filled":false,"strokeWidth":1.2,"opacity":1,"size":1500,"xOffset":-2,"yOffset":-1.2},"encoding":{"x":{"field":"d","type":"temporal"},"y":{"field":"v","type":"quantitative"},"color":{"datum":"Rendement_A10","legend":null},"shape":{"datum":"Rendement_A10","legend":null}}},
{"data":{"name":"a10z"},"mark":{"type":"point","filled":false,"strokeWidth":1.2,"opacity":1,"size":1500},"encoding":{"x":{"field":"d","type":"temporal"},"y":{"field":"v","type":"quantitative"},"color":{"datum":"Rendement_A10","legend":null},"shape":{"datum":"Rendement_A10","legend":null}}},
{"data":{"name":"a10z"},"mark":{"type":"point","filled":false,"strokeWidth":1.2,"opacity":1,"size":1500,"xOffset":1.9},"encoding":{"x":{"field":"d","type":"temporal"},"y":{"field":"v","type":"quantitative"},"color":{"datum":"Rendement_A10","legend":null},"shape":{"datum":"Rendement_A10","legend":null}}},
{"data":{"name":"zero"},"mark":{"type":"line","color":"black","strokeWidth":3},"encoding":{"x":{"field":"d","type":"temporal"},"y":{"field":"v","type":"quantitative"}}}
],
"resolve":{"scale":{"color":"shared","shape":"shared"}}}
